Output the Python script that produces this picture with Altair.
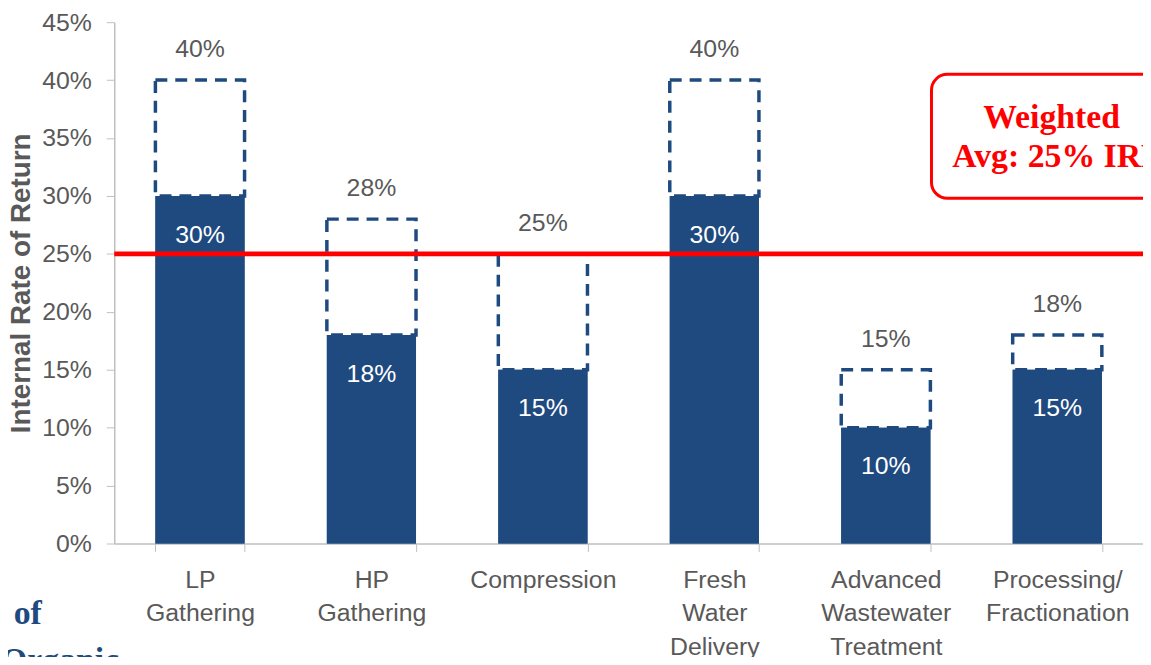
import altair as alt
import pandas as pd

categories = ["LP Gathering", "HP Gathering", "Compression", "Fresh Water Delivery",
              "Advanced Wastewater Treatment", "Processing/ Fractionation"]
low_irr = [30, 18, 15, 30, 10, 15]
high_irr = [40, 28, 25, 40, 15, 18]
weighted_avg = 25
y_ticks = [0, 5, 10, 15, 20, 25, 30, 35, 40, 45]

df = pd.DataFrame({"cat": categories, "low": low_irr, "high": high_irr})
df["low_lbl"] = [f"{v}%" for v in low_irr]
df["high_lbl"] = [f"{v}%" for v in high_irr]

NAVY = "#1F4A7F"
GRAY = "#595959"
AXIS = "#BFBFBF"
FONT = "Liberation Sans"

x = alt.X("cat:N", sort=categories, title=None,
          scale=alt.Scale(paddingInner=0.48, paddingOuter=0.24),
          axis=alt.Axis(labelAngle=0,
                        labelExpr="isValid(datum.value) && datum.label != 'undefined' ? split(datum.label, ' ') : ''",
                        labelFontSize=25, labelColor=GRAY, labelFont=FONT,
                        labelLineHeight=34, labelPadding=16,
                        tickBand="extent", tickSize=8, tickColor=AXIS,
                        domainColor=AXIS, domainWidth=1.5, grid=False))
y_scale = alt.Scale(domain=[0, 45], nice=False)
y = alt.Y("low:Q", scale=y_scale, title="Internal Rate of Return",
          axis=alt.Axis(values=y_ticks, labelExpr="datum.value + '%'",
                        labelFontSize=25, labelColor=GRAY, labelFont=FONT,
                        labelPadding=15, tickSize=8, tickColor=AXIS,
                        domainColor=AXIS, domainWidth=1.5, grid=False,
                        titleFontSize=28, titleFont=FONT, titleColor=GRAY,
                        titleFontWeight="bold", titlePadding=6))

base = alt.Chart(df)

solid = base.mark_bar(color=NAVY).encode(x=x, y=y)

dashed = base.mark_bar(fill="white", fillOpacity=0, stroke=NAVY, strokeWidth=3.5,
                       strokeDash=[12, 8]).encode(
    x=alt.X("cat:N", sort=categories), y=alt.Y("low:Q"), y2="high:Q")

solid_top = base.mark_bar(color=NAVY).encode(x=alt.X("cat:N", sort=categories), y=alt.Y("low:Q"))

high_text = base.mark_text(fontSize=25, font=FONT, color=GRAY, dy=-31).encode(
    x=alt.X("cat:N", sort=categories), y=alt.Y("high:Q"), text="high_lbl:N")

low_text = base.mark_text(fontSize=25, font=FONT, color="white", dy=39).encode(
    x=alt.X("cat:N", sort=categories), y=alt.Y("low:Q"), text="low_lbl:N")

avg_df = pd.DataFrame({"avg": [weighted_avg]})
red_line = alt.Chart(avg_df).mark_rule(color="#FF0000", strokeWidth=5).encode(
    y=alt.Y("avg:Q", scale=y_scale))

box_df = pd.DataFrame({"top": [40.5], "bottom": [29.8]})
box = alt.Chart(box_df).mark_rect(fill="white", stroke="#FF0000", strokeWidth=3,
                                  cornerRadius=16).encode(
    x=alt.value(823), x2=alt.value(1130),
    y=alt.Y("top:Q", scale=y_scale), y2="bottom:Q")

note_font = "Liberation Serif"
note1 = alt.Chart(box_df).mark_text(text="Weighted", fontSize=34, font=note_font,
                                    fontWeight="bold", color="#FF0000", align="center",
                                    baseline="middle").encode(
    x=alt.value(944), y=alt.value(97))
note2 = alt.Chart(box_df).mark_text(text="Avg: 25% IRR", fontSize=34, font=note_font,
                                    fontWeight="bold", color="#FF0000", align="left",
                                    baseline="middle").encode(
    x=alt.value(844), y=alt.value(136))

side1 = alt.Chart(box_df).mark_text(text="Portfolio of", fontSize=34, font=note_font,
                                    fontWeight="bold", color=NAVY, align="right",
                                    baseline="alphabetic").encode(
    x=alt.value(-73), y=alt.value(606))
side2 = alt.Chart(box_df).mark_text(text="Organic", fontSize=34, font=note_font,
                                    fontWeight="bold", color=NAVY, align="left",
                                    baseline="alphabetic").encode(
    x=alt.value(-114), y=alt.value(653))

chart = alt.layer(solid, dashed, solid_top, high_text, low_text, red_line,
                  box, note1, note2, side1, side2).properties(
    width=1036, height=525,
    autosize=alt.AutoSizeParams(type="none"),
    padding={"left": 107, "top": 12, "right": 0, "bottom": 112},
    background="white",
).configure_view(stroke=None)

chart.save("out.html", embed_options={"renderer": "svg", "actions": False})
